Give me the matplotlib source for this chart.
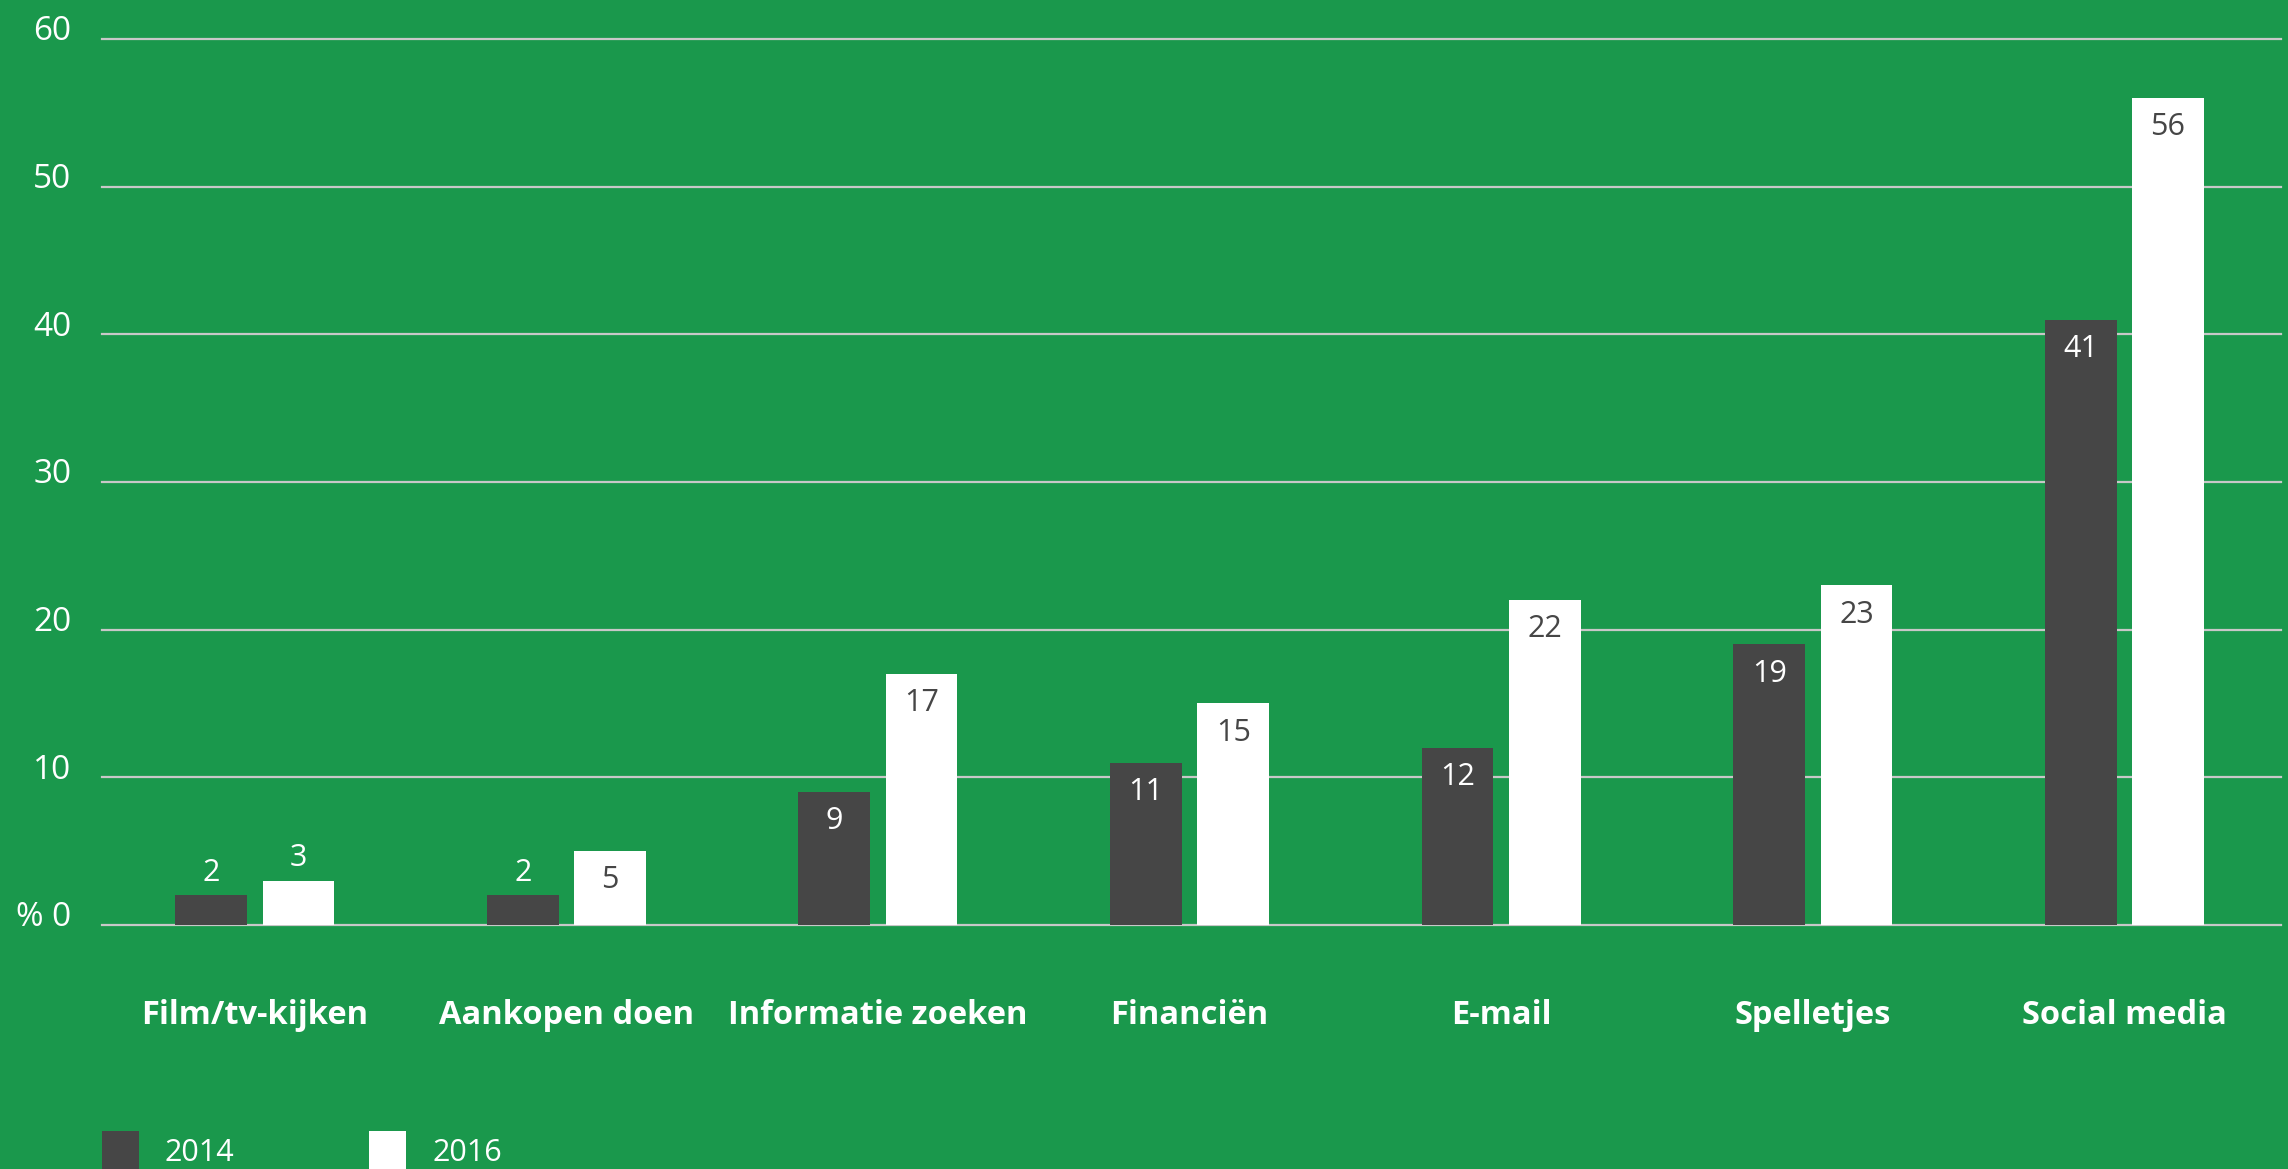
import matplotlib
matplotlib.use('Agg')
import matplotlib.pyplot as plt
from matplotlib.patches import Rectangle
from matplotlib.transforms import ScaledTranslation

# Kleuren
GREEN = '#1a984c'
DARK = '#464646'
WHITE = '#ffffff'
GRID = '#c8c8c8'

categories = ['Film/tv-kijken', 'Aankopen doen', 'Informatie zoeken',
              'Financiën', 'E-mail', 'Spelletjes', 'Social media']
years = ['2014', '2016']
values_2014 = [2, 2, 9, 11, 12, 19, 41]
values_2016 = [3, 5, 17, 15, 22, 23, 56]
yticks = [0, 10, 20, 30, 40, 50, 60]
ytick_labels = ['% 0', '10', '20', '30', '40', '50', '60']

FONT = ['Open Sans', 'DejaVu Sans']

fig = plt.figure(figsize=(22.88, 11.69), dpi=100, facecolor=GREEN)
ax = fig.add_axes([0.0446, 0.1961, 0.9524, 0.7832])
ax.set_facecolor(GREEN)

width = 0.23
offset = 0.14
x = list(range(len(categories)))

bars_a = ax.bar([i - offset for i in x], values_2014, width, color=DARK, zorder=3)
bars_b = ax.bar([i + offset for i in x], values_2016, width, color=WHITE, zorder=3)

# waarden bij de staven: kleine staven krijgen het getal erboven
def label_bars(bars, vals, inside_color):
    for b, v in zip(bars, vals):
        cx = b.get_x() + b.get_width() / 2
        if v <= 3:
            ax.annotate(str(v), (cx, v), xytext=(0, 16), textcoords='offset points',
                        ha='center', va='center', color=WHITE, fontsize=22,
                        family=FONT, zorder=4)
        else:
            ax.annotate(str(v), (cx, v), xytext=(0, -21), textcoords='offset points',
                        ha='center', va='center', color=inside_color, fontsize=22,
                        family=FONT, zorder=4)

label_bars(bars_a, values_2014, WHITE)
label_bars(bars_b, values_2016, DARK)

# rasterlijnen
for t in yticks:
    ax.axhline(t, color=GRID, lw=1.6, zorder=1, clip_on=False)

ax.set_xlim(-0.49, 6.503)
ax.set_ylim(-1, 61)
for s in ax.spines.values():
    s.set_visible(False)

ax.set_yticks(yticks)
ax.set_yticklabels(ytick_labels, fontsize=24, color=WHITE, family=FONT)
ax.tick_params(axis='y', length=0, pad=22)
shift = ScaledTranslation(0, 8 / 72, fig.dpi_scale_trans)
for lab in ax.get_yticklabels():
    lab.set_transform(lab.get_transform() + shift)

ax.set_xticks(x)
ax.set_xticklabels(categories, fontsize=23.5, color=WHITE, fontweight='bold', family=FONT)
ax.tick_params(axis='x', length=0, pad=43)

# legenda onderaan
leg = [(DARK, years[0], 102, 165), (WHITE, years[1], 369, 433)]
W, H = 2288, 1169
for col, txt, px, tx in leg:
    fig.patches.append(Rectangle((px / W, 0), 37 / W, 38 / H, transform=fig.transFigure,
                                 facecolor=col, edgecolor='none'))
    fig.text(tx / W, 1 - 1153 / H, txt, fontsize=22, color=WHITE, family=FONT,
             ha='left', va='center')

fig.savefig('out.png', dpi=100, facecolor=GREEN)
